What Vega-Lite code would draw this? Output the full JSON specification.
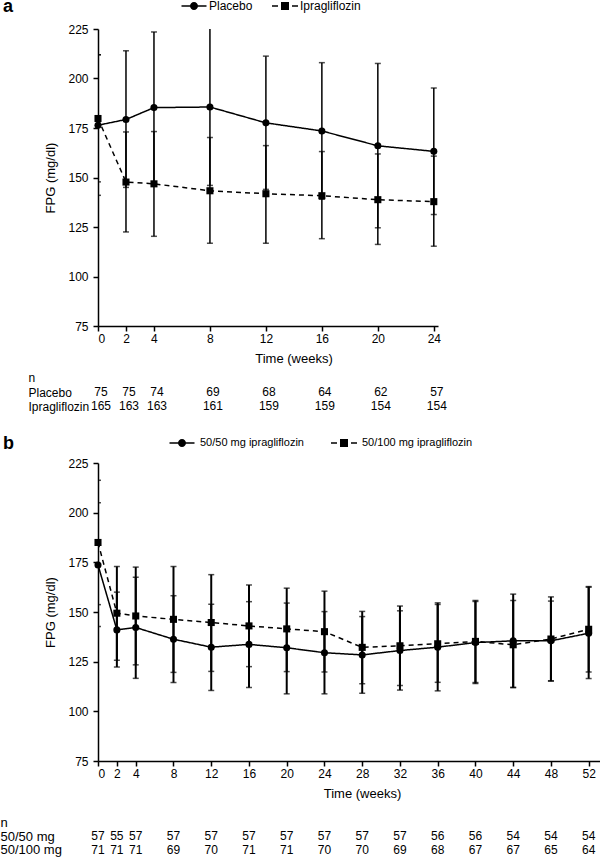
{
  "$schema": "https://vega.github.io/schema/vega-lite/v6.json",
  "padding": 0,
  "autosize": {"type": "pad"},
  "background": "white",
  "bounds": "flush",
  "spacing": 40,
  "resolve": {"scale": {"shape": "independent"}, "legend": {"shape": "independent"}},
  "config": {
    "view": {"stroke": null},
    "font": "Liberation Sans",
    "axis": {
      "grid": false,
      "labelFontSize": 12,
      "labelColor": "black",
      "titleFontSize": 13,
      "titleFontWeight": "normal",
      "titleColor": "black",
      "domainColor": "black",
      "tickColor": "black",
      "domainWidth": 1.5,
      "tickWidth": 1.5,
      "tickSize": 5
    },
    "legend": {
      "orient": "none",
      "direction": "horizontal",
      "labelColor": "black",
      "symbolSize": 100,
      "labelOffset": 9,
      "padding": 0,
      "symbolFillColor": "black",
      "symbolStrokeColor": "black",
      "symbolStrokeWidth": 1.5,
      "symbolOpacity": 1,
      "titleOrient": "left",
      "titleFontSize": 18,
      "titleFontWeight": "bold",
      "titleColor": "black",
      "titleBaseline": "middle"
    }
  },
  "datasets": {
    "chartA": [
      {"week": 0, "group": "Placebo", "mean": 176.4, "lo": 141, "hi": 212},
      {"week": 2, "group": "Placebo", "mean": 179.3, "lo": 145, "hi": 214},
      {"week": 4, "group": "Placebo", "mean": 185.3, "lo": 147, "hi": 223.5},
      {"week": 8, "group": "Placebo", "mean": 185.6, "lo": 146, "hi": 226},
      {"week": 12, "group": "Placebo", "mean": 177.6, "lo": 144, "hi": 211.3},
      {"week": 16, "group": "Placebo", "mean": 173.5, "lo": 139, "hi": 208},
      {"week": 20, "group": "Placebo", "mean": 166, "lo": 124.6, "hi": 207.6},
      {"week": 24, "group": "Placebo", "mean": 163.2, "lo": 131.3, "hi": 195.2},
      {"week": 0, "group": "Ipragliflozin", "mean": 179.8, "lo": 147.8, "hi": 212},
      {"week": 2, "group": "Ipragliflozin", "mean": 147.7, "lo": 122.5, "hi": 173},
      {"week": 4, "group": "Ipragliflozin", "mean": 146.8, "lo": 120.3, "hi": 173.2},
      {"week": 8, "group": "Ipragliflozin", "mean": 143.3, "lo": 116.8, "hi": 170.2},
      {"week": 12, "group": "Ipragliflozin", "mean": 141.8, "lo": 116.8, "hi": 166.1},
      {"week": 16, "group": "Ipragliflozin", "mean": 140.8, "lo": 119.1, "hi": 163.1},
      {"week": 20, "group": "Ipragliflozin", "mean": 138.8, "lo": 116.2, "hi": 161.9},
      {"week": 24, "group": "Ipragliflozin", "mean": 137.8, "lo": 115.3, "hi": 160.8}
    ],
    "chartB": [
      {"week": 0, "group": "50/50 mg ipragliflozin", "mean": 173.7, "lo": 142.7, "hi": 205},
      {"week": 2, "group": "50/50 mg ipragliflozin", "mean": 141, "lo": 122.3, "hi": 160},
      {"week": 4, "group": "50/50 mg ipragliflozin", "mean": 142.2, "lo": 116.6, "hi": 167.5},
      {"week": 8, "group": "50/50 mg ipragliflozin", "mean": 136.3, "lo": 114.5, "hi": 158.2},
      {"week": 12, "group": "50/50 mg ipragliflozin", "mean": 132.3, "lo": 110.5, "hi": 153.9},
      {"week": 16, "group": "50/50 mg ipragliflozin", "mean": 133.7, "lo": 112, "hi": 155.2},
      {"week": 20, "group": "50/50 mg ipragliflozin", "mean": 132, "lo": 108.8, "hi": 154.5},
      {"week": 24, "group": "50/50 mg ipragliflozin", "mean": 129.5, "lo": 108.8, "hi": 150.2},
      {"week": 28, "group": "50/50 mg ipragliflozin", "mean": 128.4, "lo": 109.1, "hi": 147.7},
      {"week": 32, "group": "50/50 mg ipragliflozin", "mean": 130.6, "lo": 110.7, "hi": 150.6},
      {"week": 36, "group": "50/50 mg ipragliflozin", "mean": 132.3, "lo": 110.3, "hi": 153.8},
      {"week": 40, "group": "50/50 mg ipragliflozin", "mean": 134.6, "lo": 114, "hi": 155.3},
      {"week": 44, "group": "50/50 mg ipragliflozin", "mean": 135.5, "lo": 112, "hi": 159},
      {"week": 48, "group": "50/50 mg ipragliflozin", "mean": 135.5, "lo": 115.2, "hi": 155.5},
      {"week": 52, "group": "50/50 mg ipragliflozin", "mean": 139.3, "lo": 116.5, "hi": 162.5},
      {"week": 0, "group": "50/100 mg ipragliflozin", "mean": 185, "lo": 153.7, "hi": 216.3},
      {"week": 2, "group": "50/100 mg ipragliflozin", "mean": 149.4, "lo": 125.7, "hi": 172.9},
      {"week": 4, "group": "50/100 mg ipragliflozin", "mean": 148, "lo": 123.4, "hi": 172.6},
      {"week": 8, "group": "50/100 mg ipragliflozin", "mean": 146.3, "lo": 119.6, "hi": 172.9},
      {"week": 12, "group": "50/100 mg ipragliflozin", "mean": 144.7, "lo": 120.1, "hi": 168.8},
      {"week": 16, "group": "50/100 mg ipragliflozin", "mean": 143, "lo": 122.5, "hi": 163.6},
      {"week": 20, "group": "50/100 mg ipragliflozin", "mean": 141.5, "lo": 120, "hi": 162},
      {"week": 24, "group": "50/100 mg ipragliflozin", "mean": 140.1, "lo": 119.8, "hi": 160.5},
      {"week": 28, "group": "50/100 mg ipragliflozin", "mean": 132.2, "lo": 113.9, "hi": 150.3},
      {"week": 32, "group": "50/100 mg ipragliflozin", "mean": 133, "lo": 113, "hi": 153},
      {"week": 36, "group": "50/100 mg ipragliflozin", "mean": 134, "lo": 114.6, "hi": 154.6},
      {"week": 40, "group": "50/100 mg ipragliflozin", "mean": 135.2, "lo": 114.5, "hi": 155.8},
      {"week": 44, "group": "50/100 mg ipragliflozin", "mean": 133.5, "lo": 112, "hi": 155.8},
      {"week": 48, "group": "50/100 mg ipragliflozin", "mean": 136.4, "lo": 115.4, "hi": 157.6},
      {"week": 52, "group": "50/100 mg ipragliflozin", "mean": 141.3, "lo": 119.8, "hi": 162.8}
    ],
    "tableA": [
      {"week": 0, "row": "Placebo", "n": 75}, {"week": 2, "row": "Placebo", "n": 75},
      {"week": 4, "row": "Placebo", "n": 74}, {"week": 8, "row": "Placebo", "n": 69},
      {"week": 12, "row": "Placebo", "n": 68}, {"week": 16, "row": "Placebo", "n": 64},
      {"week": 20, "row": "Placebo", "n": 62}, {"week": 24, "row": "Placebo", "n": 57},
      {"week": 0, "row": "Ipragliflozin", "n": 165}, {"week": 2, "row": "Ipragliflozin", "n": 163},
      {"week": 4, "row": "Ipragliflozin", "n": 163}, {"week": 8, "row": "Ipragliflozin", "n": 161},
      {"week": 12, "row": "Ipragliflozin", "n": 159}, {"week": 16, "row": "Ipragliflozin", "n": 159},
      {"week": 20, "row": "Ipragliflozin", "n": 154}, {"week": 24, "row": "Ipragliflozin", "n": 154}
    ],
    "tableB": [
      {"week": 0, "row": "50/50 mg", "n": 57}, {"week": 2, "row": "50/50 mg", "n": 55},
      {"week": 4, "row": "50/50 mg", "n": 57}, {"week": 8, "row": "50/50 mg", "n": 57},
      {"week": 12, "row": "50/50 mg", "n": 57}, {"week": 16, "row": "50/50 mg", "n": 57},
      {"week": 20, "row": "50/50 mg", "n": 57}, {"week": 24, "row": "50/50 mg", "n": 57},
      {"week": 28, "row": "50/50 mg", "n": 57}, {"week": 32, "row": "50/50 mg", "n": 57},
      {"week": 36, "row": "50/50 mg", "n": 56}, {"week": 40, "row": "50/50 mg", "n": 56},
      {"week": 44, "row": "50/50 mg", "n": 54}, {"week": 48, "row": "50/50 mg", "n": 54},
      {"week": 52, "row": "50/50 mg", "n": 54},
      {"week": 0, "row": "50/100 mg", "n": 71}, {"week": 2, "row": "50/100 mg", "n": 71},
      {"week": 4, "row": "50/100 mg", "n": 71}, {"week": 8, "row": "50/100 mg", "n": 69},
      {"week": 12, "row": "50/100 mg", "n": 70}, {"week": 16, "row": "50/100 mg", "n": 71},
      {"week": 20, "row": "50/100 mg", "n": 71}, {"week": 24, "row": "50/100 mg", "n": 70},
      {"week": 28, "row": "50/100 mg", "n": 70}, {"week": 32, "row": "50/100 mg", "n": 69},
      {"week": 36, "row": "50/100 mg", "n": 68}, {"week": 40, "row": "50/100 mg", "n": 67},
      {"week": 44, "row": "50/100 mg", "n": 67}, {"week": 48, "row": "50/100 mg", "n": 65},
      {"week": 52, "row": "50/100 mg", "n": 64}
    ]
  },
  "vconcat": [
    {
      "width": 340,
      "height": 297,
      "data": {"name": "chartA"},
      "encoding": {
        "x": {"field": "week", "type": "quantitative", "scale": {"domain": [0, 24.3], "nice": false},
              "axis": {"values": [0, 2, 4, 8, 12, 16, 20, 24], "title": "Time (weeks)", "labelPadding": 2, "titlePadding": 8, "titleX": 195.5}},
        "y": {"field": "lo", "type": "quantitative", "scale": {"domain": [75, 225], "nice": false},
              "axis": {"values": [75, 100, 125, 150, 175, 200, 225], "title": "FPG (mg/dl)", "labelPadding": 5, "titlePadding": 10}}
      },
      "layer": [
        {"mark": {"type": "rule", "color": "black", "strokeWidth": 1.5, "clip": true},
         "encoding": {"y2": {"field": "hi"}}},
        {"mark": {"type": "tick", "color": "black", "orient": "horizontal", "size": 6, "thickness": 1.5, "clip": true}},
        {"mark": {"type": "tick", "color": "black", "orient": "horizontal", "size": 6, "thickness": 1.5, "clip": true},
         "encoding": {"y": {"field": "hi", "type": "quantitative"}}},
        {"mark": {"type": "line", "color": "black", "strokeWidth": 1.5},
         "encoding": {"y": {"field": "mean", "type": "quantitative"},
                      "detail": {"field": "group", "type": "nominal"},
                      "strokeDash": {"condition": {"test": "datum.group === 'Ipragliflozin'", "value": [5, 4]}, "value": [1, 0]}}},
        {"mark": {"type": "point", "filled": true, "color": "black", "opacity": 1, "size": 50},
         "encoding": {"y": {"field": "mean", "type": "quantitative"},
                      "shape": {"condition": {"test": "datum.group === 'Ipragliflozin'", "value": "square"}, "value": "circle"}}},
        {"transform": [{"filter": "false"}],
         "mark": {"type": "point", "filled": true, "color": "black", "opacity": 1},
         "encoding": {"y": {"field": "mean", "type": "quantitative"},
                      "shape": {"field": "group", "type": "nominal",
                                "scale": {"domain": ["Placebo", "Ipragliflozin"],
                                          "range": ["M-2.5,-0.15L-0.7,-0.15L-0.7,0.15L-2.5,0.15ZM0.7,-0.15L2.5,-0.15L2.5,0.15L0.7,0.15ZM-0.8,0A0.8,0.8 0 1,1 0.8,0A0.8,0.8 0 1,1 -0.8,0Z", "M-2.6,-0.15L-1.4,-0.15L-1.4,0.15L-2.6,0.15ZM1.4,-0.15L2.6,-0.15L2.6,0.15L1.4,0.15ZM-0.8,-0.8L0.8,-0.8L0.8,0.8L-0.8,0.8Z"]},
                                "legend": {"title": "a", "legendX": -95, "legendY": -29, "titlePadding": 174, "labelFontSize": 12, "columnPadding": 16}}}}
      ]
    },
    {
      "width": 340,
      "height": 57,
      "data": {"name": "tableA"},
      "mark": {"type": "text", "fontSize": 12, "color": "black", "dx": 3},
      "encoding": {
        "x": {"field": "week", "type": "quantitative", "scale": {"domain": [0, 24.3], "nice": false}, "axis": null},
        "y": {"field": "row", "type": "nominal", "scale": {"type": "point", "padding": 0, "domain": ["n", "Placebo", "Ipragliflozin"], "range": [11.7, 40.3]},
              "axis": {"title": null, "domain": false, "ticks": false, "labelAlign": "left", "labelPadding": 70, "labelFontSize": 12}},
        "text": {"field": "n", "type": "quantitative"}
      }
    },
    {
      "width": 502,
      "height": 298,
      "data": {"name": "chartB"},
      "encoding": {
        "x": {"field": "week", "type": "quantitative", "scale": {"domain": [0, 53.2], "nice": false},
              "axis": {"values": [0, 2, 4, 8, 12, 16, 20, 24, 28, 32, 36, 40, 44, 48, 52], "title": "Time (weeks)", "labelPadding": 2, "titlePadding": 8, "titleX": 264}},
        "y": {"field": "lo", "type": "quantitative", "scale": {"domain": [75, 225], "nice": false},
              "axis": {"values": [75, 100, 125, 150, 175, 200, 225], "title": "FPG (mg/dl)", "labelPadding": 5, "titlePadding": 10}}
      },
      "layer": [
        {"mark": {"type": "rule", "color": "black", "strokeWidth": 2, "clip": true},
         "encoding": {"y2": {"field": "hi"}}},
        {"mark": {"type": "tick", "color": "black", "orient": "horizontal", "size": 6, "thickness": 1.5, "clip": true}},
        {"mark": {"type": "tick", "color": "black", "orient": "horizontal", "size": 6, "thickness": 1.5, "clip": true},
         "encoding": {"y": {"field": "hi", "type": "quantitative"}}},
        {"mark": {"type": "line", "color": "black", "strokeWidth": 1.5},
         "encoding": {"y": {"field": "mean", "type": "quantitative"},
                      "detail": {"field": "group", "type": "nominal"},
                      "strokeDash": {"condition": {"test": "datum.group === '50/100 mg ipragliflozin'", "value": [5, 4]}, "value": [1, 0]}}},
        {"mark": {"type": "point", "filled": true, "color": "black", "opacity": 1, "size": 50},
         "encoding": {"y": {"field": "mean", "type": "quantitative"},
                      "shape": {"condition": {"test": "datum.group === '50/100 mg ipragliflozin'", "value": "square"}, "value": "circle"}}},
        {"transform": [{"filter": "false"}],
         "mark": {"type": "point", "filled": true, "color": "black", "opacity": 1},
         "encoding": {"y": {"field": "mean", "type": "quantitative"},
                      "shape": {"field": "group", "type": "nominal",
                                "scale": {"domain": ["50/50 mg ipragliflozin", "50/100 mg ipragliflozin"],
                                          "range": ["M-2.5,-0.15L-0.7,-0.15L-0.7,0.15L-2.5,0.15ZM0.7,-0.15L2.5,-0.15L2.5,0.15L0.7,0.15ZM-0.8,0A0.8,0.8 0 1,1 0.8,0A0.8,0.8 0 1,1 -0.8,0Z", "M-2.6,-0.15L-1.4,-0.15L-1.4,0.15L-2.6,0.15ZM1.4,-0.15L2.6,-0.15L2.6,0.15L1.4,0.15ZM-0.8,-0.8L0.8,-0.8L0.8,0.8L-0.8,0.8Z"]},
                                "legend": {"title": "b", "legendX": -95, "legendY": -26, "titlePadding": 162, "labelFontSize": 11, "labelOffset": 12, "columnPadding": 24}}}}
      ]
    },
    {
      "width": 502,
      "height": 55,
      "data": {"name": "tableB"},
      "mark": {"type": "text", "fontSize": 12, "color": "black"},
      "encoding": {
        "x": {"field": "week", "type": "quantitative", "scale": {"domain": [0, 53.2], "nice": false}, "axis": null},
        "y": {"field": "row", "type": "nominal", "scale": {"type": "point", "padding": 0, "domain": ["n", "50/50 mg", "50/100 mg"], "range": [21.7, 48.8]},
              "axis": {"title": null, "domain": false, "ticks": false, "labelAlign": "left", "labelPadding": 98, "labelFontSize": 13}},
        "text": {"field": "n", "type": "quantitative"}
      }
    }
  ]
}
